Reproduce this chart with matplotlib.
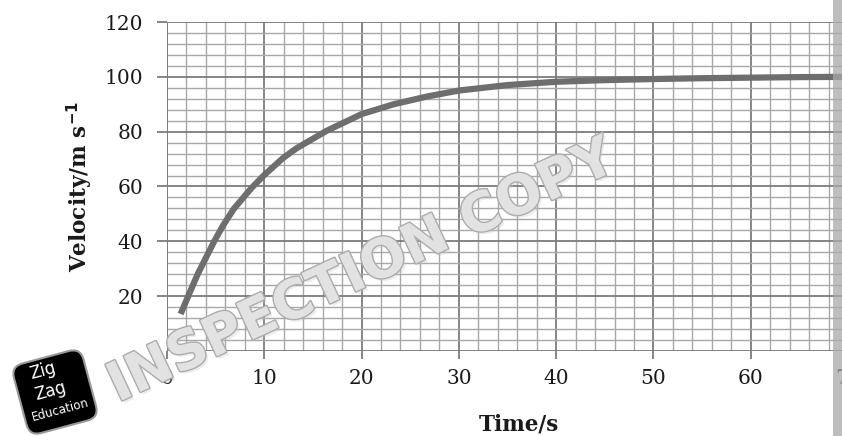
import matplotlib
matplotlib.use("Agg")
import matplotlib.pyplot as plt
import matplotlib.patheffects as pe
from matplotlib.patches import FancyBboxPatch, Rectangle
from matplotlib.transforms import Affine2D
from matplotlib.ticker import MultipleLocator

# values
time_s = [1.4, 2.3, 3.15, 4.85, 5.8, 6.9, 8.7, 10, 11.9, 13.3, 16.4, 20, 23.3,
          26.7, 30, 35, 40, 45, 50, 55, 60, 65, 70]
velocity = [13.5, 21, 28, 40, 46, 52, 59.5, 64.2, 70.3, 73.9, 80.3, 86.4, 90,
            92.8, 95, 97, 98.2, 98.8, 99.2, 99.5, 99.7, 99.9, 100]
x_ticks = [0, 10, 20, 30, 40, 50, 60, 70]
y_ticks = [20, 40, 60, 80, 100, 120]

W, H = 842, 436
fig = plt.figure(figsize=(W / 100, H / 100), dpi=100)

# plot area runs past the right edge of the picture (x=70 is cut off)
x0, x70, y0, y120 = 167, 848, 351, 22
ax = fig.add_axes([x0 / W, 1 - y0 / H, (x70 - x0) / W, (y0 - y120) / H])
ax.set_xlim(0, 70)
ax.set_ylim(0, 120)
ax.set_xticks(x_ticks)
ax.set_yticks(y_ticks)
ax.xaxis.set_minor_locator(MultipleLocator(2))
ax.yaxis.set_minor_locator(MultipleLocator(4))
ax.grid(which="minor", color="#a8a8a8", lw=1.0)
ax.grid(which="major", color="#7c7c7c", lw=1.3)
ax.set_axisbelow(True)
for sp in ax.spines.values():
    sp.set_visible(False)
ax.axvline(0, color="#7c7c7c", lw=1.3)
ax.axhline(0, color="#7c7c7c", lw=1.3)

ax.tick_params(axis="x", which="major", length=6, width=1.3, color="#7c7c7c",
               pad=7, labelsize=14.5)
ax.tick_params(axis="y", which="major", length=7, width=1.3, color="#7c7c7c",
               pad=10, labelsize=14.5)
ax.tick_params(which="minor", length=0)
for lab in ax.get_xticklabels() + ax.get_yticklabels():
    lab.set_fontfamily("DejaVu Serif")
    lab.set_color("#1a1a1a")

ax.plot(time_s, velocity, color="#6e6e6e", lw=4.5, solid_capstyle="butt",
        solid_joinstyle="round", zorder=3)

fig.text(519 / W, 1 - 424 / H, "Time/s", family="DejaVu Serif", weight="bold",
         fontsize=15.5, ha="center", va="center", color="#1a1a1a")
fig.text(80 / W, 1 - 186 / H, r"Velocity/m s$^{\mathbf{-1}}$", family="DejaVu Serif",
         weight="bold", fontsize=15.5, ha="center", va="center", rotation=90,
         color="#1a1a1a")

# overlay in pixel coordinates for the scan artefacts
ov = fig.add_axes([0, 0, 1, 1], zorder=5)
ov.set_xlim(0, W)
ov.set_ylim(H, 0)
ov.axis("off")
ov.patch.set_alpha(0)

ov.add_patch(Rectangle((833, 0), 9, H, fc="#a8a8a8", lw=0, alpha=0.75))

ov.text(362, 272, "INSPECTION COPY", family="DejaVu Sans", weight="bold",
        fontsize=39, rotation=25, ha="center", va="center", color="#e2e2e2",
        rotation_mode="anchor",
        path_effects=[pe.SimplePatchShadow(offset=(2, -2), shadow_rgbFace="#c4c4c4"),
                      pe.withStroke(linewidth=2, foreground="#acacac")])

# ZigZag logo
cx, cy = 55, 392
rot = Affine2D().rotate_deg_around(cx, cy, -15) + ov.transData
ov.add_patch(FancyBboxPatch((cx - 36, cy - 36), 72, 72,
                            boxstyle="round,pad=0,rounding_size=12",
                            fc="black", ec="#999999", lw=1.5, transform=rot))
ov.text(43, 371, "Zig", color="white", fontsize=12, rotation=15,
        ha="center", va="center", family="DejaVu Sans")
ov.text(50, 391, "Zag", color="white", fontsize=12, rotation=15,
        ha="center", va="center", family="DejaVu Sans")
ov.text(60, 410, "Education", color="white", fontsize=8.5, rotation=15,
        ha="center", va="center", family="DejaVu Sans")

fig.savefig("out.png", dpi=100)
